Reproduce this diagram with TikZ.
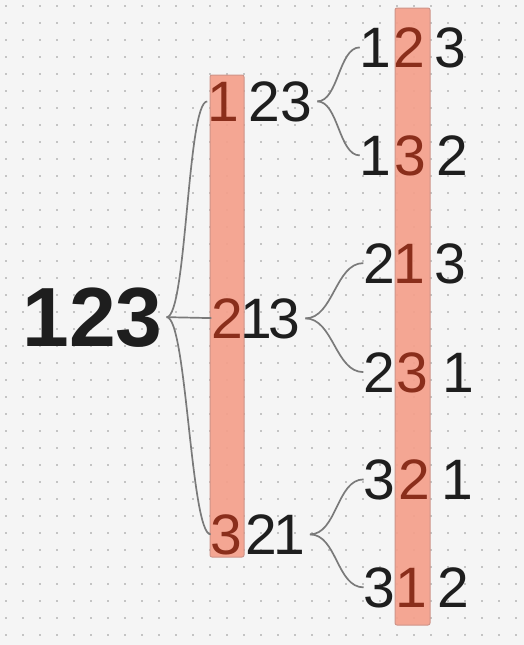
\documentclass[tikz,border=0pt]{standalone}
\usepackage{fontspec}
\setmainfont{Liberation Sans}
\definecolor{bg}{HTML}{F5F5F5}
\definecolor{dotc}{HTML}{C4C4C4}
\definecolor{boxfill}{HTML}{F4A08B}
\definecolor{boxline}{HTML}{CF9489}
\definecolor{hl}{HTML}{8A2E1B}
\definecolor{inkc}{HTML}{1E1E1E}
\definecolor{linec}{HTML}{7A7A7A}
\begin{document}
\begin{tikzpicture}[x=1pt,y=-1pt,
  dig/.style={inner sep=0pt, outer sep=0pt, anchor=base, font=\fontsize{57}{57}\selectfont, text=inkc},
  hi/.style={dig, text=hl},
  lastdig/.style={dig, outer xsep=5pt},
  rootlbl/.style={inner sep=0pt, outer xsep=4pt, outer ysep=0pt, anchor=base, font=\fontsize{84}{84}\selectfont\bfseries, text=inkc},
  col/.style={fill=boxfill, draw=boxline, line width=1pt, rounded corners=2pt, fill opacity=0.92},
  conn/.style={draw=linec, line width=1.7pt},
]
\fill[bg] (0,0) rectangle (524,645);
\useasboundingbox (0,0) rectangle (524,645);
\foreach \i in {0,...,30} \foreach \j in {0,...,37}
  \fill[dotc] ({6+17*\i-0.6},{6+17*\j-0.6}) rectangle ++(1.2,1.2);

% highlight columns
\path[col] (210,75) rectangle (244,557);
\path[col] (395,8) rectangle (430,625);

% root
\node[rootlbl] (root) at (92.6,346) {123};

% level 1
\node[hi] (a1) at (223.1,121) {1};
\node[dig] (a2) at (264.2,121) {2};
\node[lastdig] (a3) at (296.5,121) {3};

\node[hi] (b1) at (227.2,338) {2};
\node[dig] (b2) at (256.6,338) {1};
\node[lastdig] (b3) at (284.5,338) {3};

\node[hi] (c1) at (226.5,554) {3};
\node[dig] (c2) at (261.2,554) {2};
\node[lastdig] (c3) at (289.1,554) {1};

% level 2
\node[dig] (p1) at (375.6,67) {1};
\node[hi] (p2) at (409.2,67) {2};
\node[dig] (p3) at (450.5,67) {3};

\node[dig] (q1) at (375.6,175) {1};
\node[hi] (q2) at (410.5,175) {3};
\node[dig] (q3) at (452.2,175) {2};

\node[dig] (r1) at (379.2,283) {2};
\node[hi] (r2) at (409.6,283) {1};
\node[dig] (r3) at (450.5,283) {3};

\node[dig] (s1) at (379.2,392) {2};
\node[hi] (s2) at (412.5,392) {3};
\node[dig] (s3) at (458.1,392) {1};

\node[dig] (t1) at (379.5,499) {3};
\node[hi] (t2) at (414.2,499) {2};
\node[dig] (t3) at (457.1,499) {1};

\node[dig] (u1) at (379.5,607) {3};
\node[hi] (u2) at (411.1,607) {1};
\node[dig] (u3) at (453.2,607) {2};

% connectors
\draw[conn] (root.east) .. controls +(20,0) and +(-20,0) .. (a1.west);
\draw[conn] (root.east) -- (b1.west);
\draw[conn] (root.east) .. controls +(20,0) and +(-20,0) .. (c1.west);

\draw[conn] (a3.east) .. controls +(21,0) and +(-21,0) .. (p1.west);
\draw[conn] (a3.east) .. controls +(21,0) and +(-21,0) .. (q1.west);
\draw[conn] (b3.east) .. controls +(28,0) and +(-28,0) .. (r1.west);
\draw[conn] (b3.east) .. controls +(28,0) and +(-28,0) .. (s1.west);
\draw[conn] (c3.east) .. controls +(27,0) and +(-27,0) .. (t1.west);
\draw[conn] (c3.east) .. controls +(27,0) and +(-27,0) .. (u1.west);
\end{tikzpicture}
\end{document}
